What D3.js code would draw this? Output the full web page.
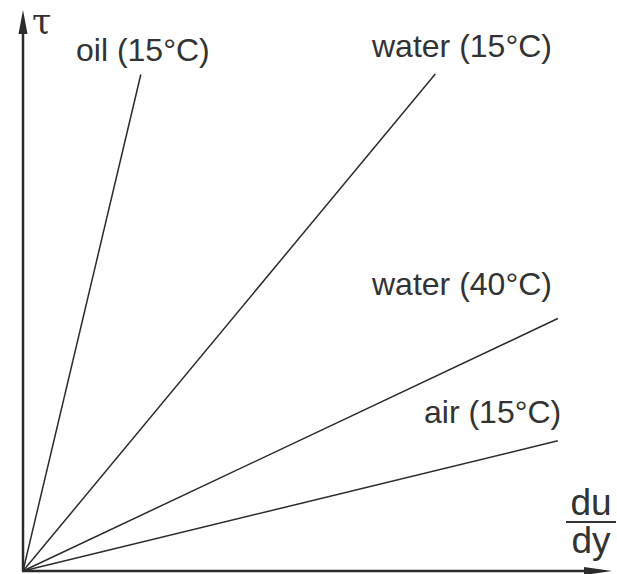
<!DOCTYPE html>
<html>
<head>
<meta charset="utf-8">
<script src="https://cdn.jsdelivr.net/npm/d3@7"></script>
<style>
  html, body { margin: 0; padding: 0; background: #fff; }
  svg { display: block; }
  .lbl { font-family: "Liberation Sans", Arial, sans-serif; fill: #333; }
</style>
</head>
<body>
<svg id="chart" width="617" height="574"></svg>
<script>
// Fluids (shear stress vs. rate of strain, Newtonian fluids)
const fluids = ["oil (15°C)", "water (15°C)", "water (40°C)", "air (15°C)"];
// end point of each line: rate of strain (du/dy) and shear stress (τ)
const strainEnd = [2.0, 7.0, 9.08, 9.08];
const stressEnd = [8.85, 8.86, 4.5, 2.32];

const axisX = "du/dy";
const axisY = "τ";

const svg = d3.select("#chart");
const origin = { x: 23, y: 571 };

const x = d3.scaleLinear().domain([0, 10]).range([origin.x, 612]);
const y = d3.scaleLinear().domain([0, 10]).range([origin.y, 10]);

// radial lines from the origin
const line = d3.line().x(d => x(d[0])).y(d => y(d[1]));
fluids.forEach((f, i) => {
  svg.append("path")
    .attr("d", line([[0, 0], [strainEnd[i], stressEnd[i]]]))
    .attr("fill", "none")
    .attr("stroke", "#2b2b2b")
    .attr("stroke-width", 1.5);
});

// axes
svg.append("line")
  .attr("x1", x(0)).attr("y1", y(0)).attr("x2", x(0)).attr("y2", y(10) + 14)
  .attr("stroke", "#2b2b2b").attr("stroke-width", 2.5);
svg.append("line")
  .attr("x1", x(0) - 1).attr("y1", y(0)).attr("x2", x(10) - 14).attr("y2", y(0))
  .attr("stroke", "#2b2b2b").attr("stroke-width", 2.5);

// arrow heads
svg.append("path")
  .attr("d", `M${x(0)},${y(10)} L${x(0) - 4.5},${y(10) + 24} L${x(0) + 4.5},${y(10) + 24} Z`)
  .attr("fill", "#2b2b2b");
svg.append("path")
  .attr("d", `M${x(10)},${y(0)} L${x(10) - 28},${y(0) - 4} L${x(10) - 28},${y(0) + 4} Z`)
  .attr("fill", "#2b2b2b");

// line labels
const labelPos = [[76, 61], [372, 57], [372, 295], [424, 423]];
fluids.forEach((f, i) => {
  svg.append("text")
    .attr("class", "lbl")
    .attr("x", labelPos[i][0]).attr("y", labelPos[i][1])
    .attr("font-size", 32)
    .text(f);
});

// y axis label
svg.append("text")
  .attr("x", 32).attr("y", 33.5)
  .attr("font-family", "'DejaVu Serif', serif")
  .attr("font-size", 35)
  .attr("fill", "#333")
  .text(axisY);

// x axis label as a stacked fraction
const [num, den] = axisX.split("/");
const fx = 591;
svg.append("text").attr("class", "lbl")
  .attr("x", fx).attr("y", 515).attr("text-anchor", "middle")
  .attr("font-size", 37).text(num);
svg.append("line")
  .attr("x1", 566).attr("x2", 616).attr("y1", 522).attr("y2", 522)
  .attr("stroke", "#333").attr("stroke-width", 2);
svg.append("text").attr("class", "lbl")
  .attr("x", fx).attr("y", 553).attr("text-anchor", "middle")
  .attr("font-size", 37).text(den);
</script>
</body>
</html>
